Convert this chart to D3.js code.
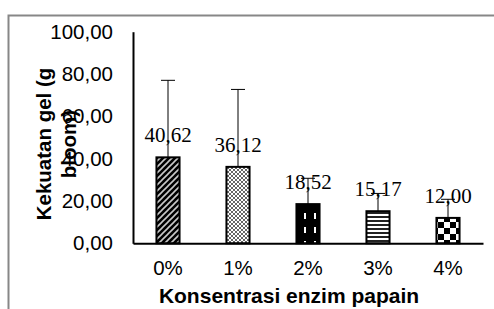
<!DOCTYPE html>
<html>
<head>
<meta charset="utf-8">
<script src="https://cdn.jsdelivr.net/npm/d3@7"></script>
<style>
  html, body { margin: 0; padding: 0; background: #fff; }
  svg { display: block; }
</style>
</head>
<body>
<svg id="chart" width="494" height="309"></svg>
<script>
const categories = ["0%", "1%", "2%", "3%", "4%"];
const values = [40.62, 36.12, 18.52, 15.17, 12.00];
const errors = [36.4, 36.6, 12.2, 8.4, 8.8];
const yTicks = [0, 20, 40, 60, 80, 100];
const patternIds = ["pDiag", "pCross", "pDash", "pHoriz", "pCheck"];
const yTitleLines = ["Kekuatan gel (g", "bloom)"];
const xTitle = "Konsentrasi enzim papain";

const svg = d3.select("#chart");
const fmt = v => d3.format(".2f")(v).replace(".", ",");
const SANS = "'Liberation Sans', Arial, sans-serif";
const SERIF = "'Liberation Serif', 'Times New Roman', serif";

// patterns
const defs = svg.append("defs");
{
  const p = defs.append("pattern").attr("id", "pDiag").attr("patternUnits", "userSpaceOnUse")
    .attr("width", 6).attr("height", 6);
  p.append("rect").attr("width", 6).attr("height", 6).attr("fill", "#000");
  p.append("path").attr("d", "M-1,1 l2,-2 M0,6 l6,-6 M5,7 l2,-2").attr("stroke", "#c8c8c8").attr("stroke-width", 1.6);
}
{
  const p = defs.append("pattern").attr("id", "pCross").attr("patternUnits", "userSpaceOnUse")
    .attr("width", 4).attr("height", 4);
  p.append("rect").attr("width", 4).attr("height", 4).attr("fill", "#fff");
  p.append("path").attr("d", "M0,0 L4,4 M4,0 L0,4").attr("stroke", "#555").attr("stroke-width", 0.9);
}
{
  const p = defs.append("pattern").attr("id", "pDash").attr("patternUnits", "userSpaceOnUse")
    .attr("width", 10).attr("height", 14);
  p.append("rect").attr("width", 10).attr("height", 14).attr("fill", "#000");
  p.append("rect").attr("x", 4).attr("y", 3).attr("width", 2).attr("height", 6).attr("fill", "#fff");
}
{
  const p = defs.append("pattern").attr("id", "pHoriz").attr("patternUnits", "userSpaceOnUse")
    .attr("width", 4).attr("height", 4);
  p.append("rect").attr("width", 4).attr("height", 4).attr("fill", "#fff");
  p.append("rect").attr("width", 4).attr("height", 2).attr("fill", "#222");
}
{
  const p = defs.append("pattern").attr("id", "pCheck").attr("patternUnits", "userSpaceOnUse")
    .attr("width", 12).attr("height", 12);
  p.append("rect").attr("width", 12).attr("height", 12).attr("fill", "#fff");
  p.append("rect").attr("width", 6).attr("height", 6).attr("fill", "#000");
  p.append("rect").attr("x", 6).attr("y", 6).attr("width", 6).attr("height", 6).attr("fill", "#000");
}

// frame
svg.append("rect").attr("x", 8.5).attr("y", 15.5).attr("width", 600).attr("height", 400)
  .attr("fill", "none").attr("stroke", "#878787").attr("stroke-width", 2);

const x = d3.scaleBand().domain(categories).range([133, 483]).paddingInner(0.67).paddingOuter(0.335);
const y = d3.scaleLinear().domain([0, 100]).range([243.3, 31.7]);

// bars
const g = svg.append("g");
g.selectAll("rect.bar").data(values).join("rect")
  .attr("class", "bar")
  .attr("x", (d, i) => x(categories[i]))
  .attr("y", d => y(d))
  .attr("width", x.bandwidth())
  .attr("height", d => y(0) - y(d))
  .attr("fill", (d, i) => `url(#${patternIds[i]})`)
  .attr("stroke", "#000").attr("stroke-width", 2);

// error bars (plus only)
const cx = i => x(categories[i]) + x.bandwidth() / 2;
g.selectAll("line.err").data(values).join("line")
  .attr("class", "err")
  .attr("x1", (d, i) => cx(i)).attr("x2", (d, i) => cx(i))
  .attr("y1", d => y(d)).attr("y2", (d, i) => y(d + errors[i]))
  .attr("stroke", "#000").attr("stroke-width", 1);
g.selectAll("line.cap").data(values).join("line")
  .attr("class", "cap")
  .attr("x1", (d, i) => cx(i) - 7).attr("x2", (d, i) => cx(i) + 7)
  .attr("y1", (d, i) => y(d + errors[i])).attr("y2", (d, i) => y(d + errors[i]))
  .attr("stroke", "#000").attr("stroke-width", 1);

// axes
const yAxis = d3.axisLeft(y).tickValues(yTicks).tickFormat(fmt).tickSize(0).tickPadding(20);
const ya = svg.append("g").attr("transform", "translate(133,0)").call(yAxis);
ya.attr("font-family", SANS).attr("font-size", 20.5);
ya.select(".domain").attr("stroke", "#000").attr("stroke-width", 2);
ya.selectAll("text").attr("fill", "#000");

const xAxis = d3.axisBottom(x).tickSize(0).tickPadding(17);
const xa = svg.append("g").attr("transform", `translate(0,${y(0)})`).call(xAxis);
xa.attr("font-family", SANS).attr("font-size", 20.5);
xa.select(".domain").attr("stroke", "#000").attr("stroke-width", 2);
xa.selectAll("text").attr("fill", "#000");

// data labels
g.selectAll("text.lbl").data(values).join("text")
  .attr("class", "lbl")
  .attr("x", (d, i) => cx(i))
  .attr("y", d => y(d) - 15)
  .attr("text-anchor", "middle")
  .attr("font-family", SERIF)
  .attr("font-size", 21)
  .text(fmt);

// titles
svg.append("text").attr("x", 289).attr("y", 303)
  .attr("text-anchor", "middle")
  .attr("font-family", SANS)
  .attr("font-size", 21).attr("font-weight", "bold")
  .text(xTitle);

const yt = svg.append("text")
  .attr("transform", "translate(0,144) rotate(-90)")
  .attr("text-anchor", "middle")
  .attr("font-family", SANS)
  .attr("font-size", 20.5).attr("font-weight", "bold");
yt.selectAll("tspan").data(yTitleLines).join("tspan")
  .attr("x", 0)
  .attr("y", (d, i) => i === 0 ? 51 : 76)
  .text(d => d);
</script>
</body>
</html>
